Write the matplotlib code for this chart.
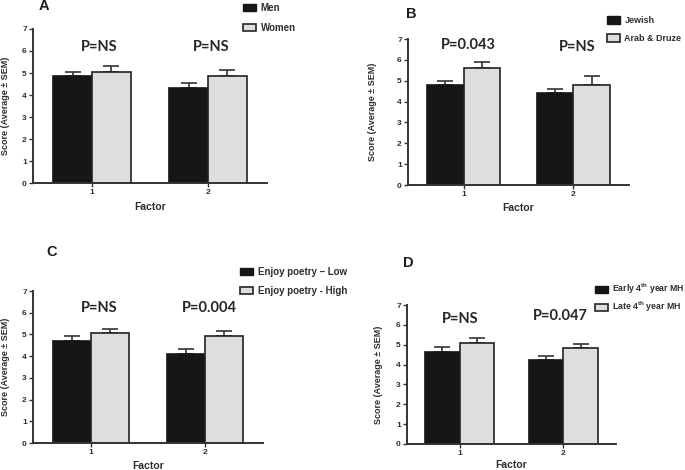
import numpy as np
import matplotlib
matplotlib.use("Agg")
import matplotlib.pyplot as plt
from matplotlib.patches import Patch

# Bar values (score averages) and SEM, factor 1 and 2
factors = [1, 2]

men = [4.86, 4.32]
men_sem = [0.19, 0.21]
women = [5.05, 4.86]
women_sem = [0.25, 0.28]

jewish = [4.78, 4.39]
jewish_sem = [0.22, 0.21]
arab_druze = [5.63, 4.81]
arab_druze_sem = [0.27, 0.40]

poetry_low = [4.71, 4.11]
poetry_low_sem = [0.21, 0.23]
poetry_high = [5.05, 4.95]
poetry_high_sem = [0.19, 0.22]

early_mh = [4.65, 4.21]
early_mh_sem = [0.23, 0.24]
late_mh = [5.08, 4.82]
late_mh_sem = [0.24, 0.21]

p_labels_a = ["P=NS", "P=NS"]
p_labels_b = ["P=0.043", "P=NS"]
p_labels_c = ["P=NS", "P=0.004"]
p_labels_d = ["P=NS", "P=0.047"]

W, H = 685, 470
TXT = "#2e2e2e"
GRAY = "#dedede"
DARK = "#161616"

fig = plt.figure(figsize=(W / 100, H / 100), dpi=100)


def px_axes(left, right, y0, y7):
    # pixel box (top-origin) -> figure fraction
    return fig.add_axes([left / W, (H - y0) / H, (right - left) / W, (y0 - y7) / H])


panels = [
    # letter, axes box, letter pos, series, p labels + positions, legend spot/size, label offsets
    dict(letter="A", box=(33, 267, 183, 29), letter_xy=(44, 6),
         s1=(men, men_sem, "Men"), s2=(women, women_sem, "Women"),
         p=p_labels_a, p_xy=[(1.06, 6.18), (2.03, 6.18)],
         leg=(243, 3), leg_size=7, leg_gap=1.0, ylab_x=-0.098, xlab_off=19),
    dict(letter="B", box=(408, 629, 185, 39), letter_xy=(411, 14),
         s1=(jewish, jewish_sem, "Jewish"), s2=(arab_druze, arab_druze_sem, "Arab & Druze"),
         p=p_labels_b, p_xy=[(1.04, 6.71), (2.04, 6.62)],
         leg=(607, 16), leg_size=6.5, leg_gap=1.0, ylab_x=-0.14, xlab_off=18),
    dict(letter="C", box=(33, 263, 443, 291), letter_xy=(52, 252),
         s1=(poetry_low, poetry_low_sem, "Enjoy poetry \u2013 Low"),
         s2=(poetry_high, poetry_high_sem, "Enjoy poetry - High"),
         p=p_labels_c, p_xy=[(1.07, 6.2), (2.04, 6.2)],
         leg=(240, 267), leg_size=7, leg_gap=0.9, ylab_x=-0.1, xlab_off=18),
    dict(letter="D", box=(407, 616, 444, 305), letter_xy=(408, 263),
         s1=(early_mh, early_mh_sem, r"Early 4$^{\mathregular{th}}$ year MH"),
         s2=(late_mh, late_mh_sem, r"Late 4$^{\mathregular{th}}$ year MH"),
         p=p_labels_d, p_xy=[(1.0, 6.29), (1.97, 6.45)],
         leg=(595, 282), leg_size=6.3, leg_gap=0.4, ylab_x=-0.115, xlab_off=16),
]

bw = 0.335
x = np.array(factors, dtype=float)

for pn in panels:
    left, right, y0, y7 = pn["box"]
    ax = px_axes(left, right, y0, y7)
    (v1, e1, l1), (v2, e2, l2) = pn["s1"], pn["s2"]

    ax.bar(x - bw / 2, v1, bw, color=DARK, edgecolor=DARK, linewidth=1.2, zorder=2)
    ax.bar(x + bw / 2, v2, bw, color=GRAY, edgecolor="#222222", linewidth=1.2, zorder=2)
    ax.errorbar(x - bw / 2, v1, yerr=[np.zeros(2), e1], fmt="none", ecolor="#333333",
                elinewidth=1.2, capsize=6, capthick=1.2, zorder=1)
    ax.errorbar(x + bw / 2, v2, yerr=[np.zeros(2), e2], fmt="none", ecolor="#333333",
                elinewidth=1.2, capsize=6, capthick=1.2, zorder=1)

    ax.set_xlim(0.49, 2.51)
    ax.set_ylim(0, 7)
    ax.set_yticks(range(8))
    ax.set_xticks(factors)
    for s in ["top", "right"]:
        ax.spines[s].set_visible(False)
    for s in ["left", "bottom"]:
        ax.spines[s].set_linewidth(1.4)
        ax.spines[s].set_color("#333333")
    ax.tick_params(length=3, width=1, color="#333333", pad=1.5,
                   labelsize=6, labelcolor=TXT)
    for t in ax.get_xticklabels() + ax.get_yticklabels():
        t.set_fontweight("bold")
        t.set_family("Liberation Sans")

    ax.set_ylabel("Score (Average \u00b1 SEM)", fontsize=6.5, fontweight="bold",
                  color=TXT, family="Liberation Sans")
    ax.yaxis.set_label_coords(pn["ylab_x"], 0.5)
    ax.set_xlabel("Factor", fontsize=7.5, fontweight="bold", color=TXT,
                  family="Liberation Sans")
    ax.xaxis.set_label_coords(0.5, -pn["xlab_off"] / (y0 - y7))

    for lab, (px_, py_) in zip(pn["p"], pn["p_xy"]):
        ax.text(px_, py_, lab, ha="center", va="center", fontsize=10.5,
                fontweight="bold", family="Lato", color="#262626")

    lx, ly = pn["letter_xy"]
    fig.text(lx / W, 1 - ly / H, pn["letter"], ha="center", va="center",
             fontsize=10.5, fontweight="bold", family="Liberation Sans", color="#1e1e1e")

    handles = [Patch(facecolor=DARK, edgecolor=DARK, label=l1),
               Patch(facecolor=GRAY, edgecolor="#222222", linewidth=1.2, label=l2)]
    gx, gy = pn["leg"]
    fs = pn["leg_size"]
    # keep the handle box about 13x8 px whatever the text size
    fs_px = fs * 100 / 72
    fig.legend(handles=handles, loc="upper left", bbox_to_anchor=(gx / W, 1 - gy / H),
               frameon=False, borderpad=0, borderaxespad=0, handlelength=13 / fs_px,
               handleheight=8 / fs_px, handletextpad=4.5 / fs_px, labelspacing=pn["leg_gap"],
               prop=dict(family="Liberation Sans", weight="bold", size=fs),
               labelcolor=TXT)

fig.savefig("out.png", dpi=100)
